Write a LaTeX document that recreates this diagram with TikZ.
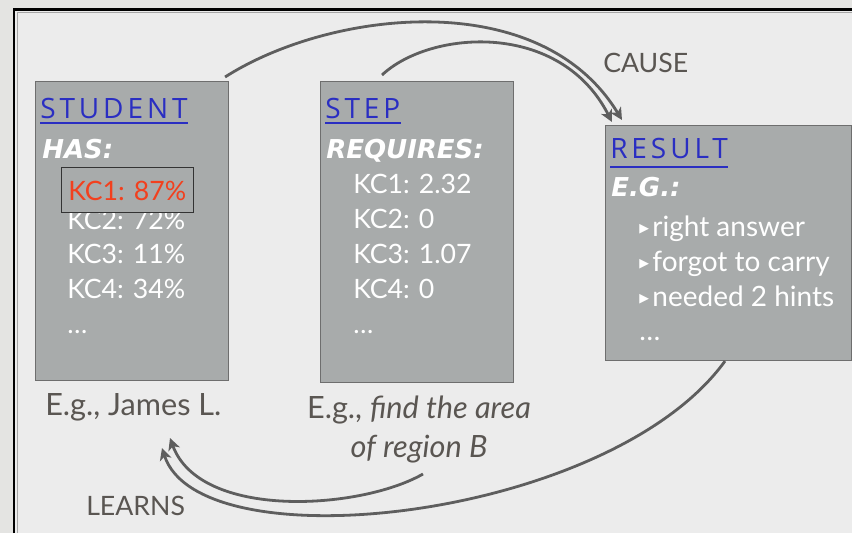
\documentclass[tikz,border=0pt]{standalone}
\usepackage{fontspec}
\setmainfont{Lato}
\newfontfamily\headfont{Open Sans}[LetterSpace=14]
\newfontfamily\rolefont{DejaVu Sans}
\newfontfamily\symfont{DejaVu Sans}
\usetikzlibrary{arrows.meta,calc}

\definecolor{pagebg}{HTML}{E4E4E2}
\definecolor{framebg}{HTML}{ECECEC}
\definecolor{boxfill}{HTML}{A8ABAB}
\definecolor{boxline}{HTML}{6E6E6E}
\definecolor{headblue}{HTML}{2A2EC2}
\definecolor{kcred}{HTML}{F2401E}
\definecolor{labelgray}{HTML}{5A5652}
\definecolor{arrowgray}{HTML}{5E5E5E}

\tikzset{
  card/.style={draw=boxline, line width=0.8pt, fill=boxfill, inner sep=0pt, anchor=north west},
  head/.style={anchor=base west, inner sep=0pt, text=headblue, font=\headfont\fontsize{21}{24}\selectfont},
  role/.style={anchor=base west, inner sep=0pt, text=white, font=\rolefont\bfseries\itshape\fontsize{19.5}{23}\selectfont},
  entry/.style={anchor=base west, inner sep=0pt, text=white, font=\fontsize{20}{24}\selectfont},
  outcome/.style={anchor=base west, inner sep=0pt, text=white, font=\fontsize{21}{25}\selectfont},
  caption/.style={inner sep=0pt, text=labelgray, font=\fontsize{23}{27}\selectfont},
  tag/.style={anchor=base west, inner sep=0pt, text=labelgray, font=\fontsize{20}{24}\selectfont},
  underline/.style={headblue, line width=1.5pt},
  link/.style={draw=arrowgray, line width=2.1pt, -{Stealth[length=9pt,width=9pt,inset=2.5pt]}},
}

% small white pointer used in front of each outcome
\newcommand{\bul}{{\symfont\fontsize{9.5}{10}\selectfont\raisebox{0.3em}{▶}}\hspace{0.12em}}

\begin{document}
\begin{tikzpicture}[x=0.75pt, y=-0.75pt]
\useasboundingbox (0,0) rectangle (852,533);
% page and slide frame
\fill[pagebg] (0,0) rectangle (852,533);
\fill[framebg] (15,10) rectangle (852,533);
\draw[black, line width=1.6pt] (14,533) -- (14,9.5) -- (852,9.5);
\draw[gray!70, line width=0.6pt] (17.5,533) -- (17.5,12.8) -- (852,12.8);

% the three cards
\node[card, minimum width=144.75pt, minimum height=224.25pt] (student) at (35,81) {};
\node[card, minimum width=144.75pt, minimum height=225.75pt] (step) at (320,81) {};
\node[card, minimum width=184.5pt, minimum height=176.25pt] (result) at (605,125) {};

% student card
\node[head] (sthead) at (40,118) {STUDENT};
\draw[underline] ($(sthead.base west)+(0,4.5)$) -- ($(sthead.base east)+(0,4.5)$);
\node[role] (has) at (42,158) {HAS:};
\node[entry] (skc2) at (67,229) {KC2: 72\%};
\node[draw=black!80, line width=0.7pt, fill=boxfill, minimum width=99pt, minimum height=33.75pt, anchor=north west, inner sep=0pt] (kcbox) at (61,167) {};
\node[entry, text=kcred] (skc1) at (68,200) {KC1: 87\%};
\node[entry] (skc3) at (67,263) {KC3: 11\%};
\node[entry] (skc4) at (67,298) {KC4: 34\%};
\node[entry] (sdots) at (67,333) {\ldots};

% step card
\node[head] (sphead) at (325,118) {STEP};
\draw[underline] ($(sphead.base west)+(0,4.5)$) -- ($(sphead.base east)+(0,4.5)$);
\node[role] (req) at (326,158) {REQUIRES:};
\node[entry] (pkc1) at (353,193) {KC1: 2.32};
\node[entry] (pkc2) at (353,228) {KC2: 0};
\node[entry] (pkc3) at (353,263) {KC3: 1.07};
\node[entry] (pkc4) at (353,298) {KC4: 0};
\node[entry] (pdots) at (353,333) {\ldots};

% result card
\node[head] (rshead) at (610,158) {RESULT};
\draw[underline] ($(rshead.base west)+(0,9)$) -- ($(rshead.base east)+(0,9)$);
\node[role] (eg) at (611,196) {E.G.:};
\node[outcome] (r1) at (639,236) {\bul right answer};
\node[outcome] (r2) at (639,271) {\bul forgot to carry};
\node[outcome] (r3) at (639,306) {\bul needed 2 hints};
\node[outcome] (rdots) at (639,340) {\ldots};

% captions
\node[caption, anchor=base west] (james) at (45,415) {E.g., James L.};
\node[caption, anchor=base] (stepl1) at (419,418) {E.g., \textit{find the area}};
\node[caption, anchor=base] (stepl2) at (419,457) {\textit{of region B}};
\node[tag] (cause) at (603,72) {CAUSE};
\node[tag] (learns) at (86,515) {LEARNS};

% connectors
\coordinate (c1s) at ($(student.north east)+(-4,-4)$);
\coordinate (c1e) at ($(result.north west)+(17,-5)$);
\coordinate (c2s) at ($(step.north west)+(62,-6)$);
\coordinate (c2e) at ($(result.north west)+(7,-3)$);
\coordinate (l1s) at ($(result.south west)+(120,0)$);
\coordinate (l1e) at ($(james.base west)+(117,33)$);
\coordinate (l2s) at ($(stepl2.base)+(4,17)$);
\coordinate (l2e) at ($(james.base west)+(125,23)$);

\draw[link] (c1s) .. controls (330,10) and (540,-15) .. (c1e);
\draw[link] (c2s) .. controls (430,30) and (560,20) .. (c2e);
\draw[link] (l1s) .. controls (610,520) and (200,565) .. (l1e);
\draw[link] (l2s) .. controls (360,510) and (200,520) .. (l2e);
\end{tikzpicture}
\end{document}
